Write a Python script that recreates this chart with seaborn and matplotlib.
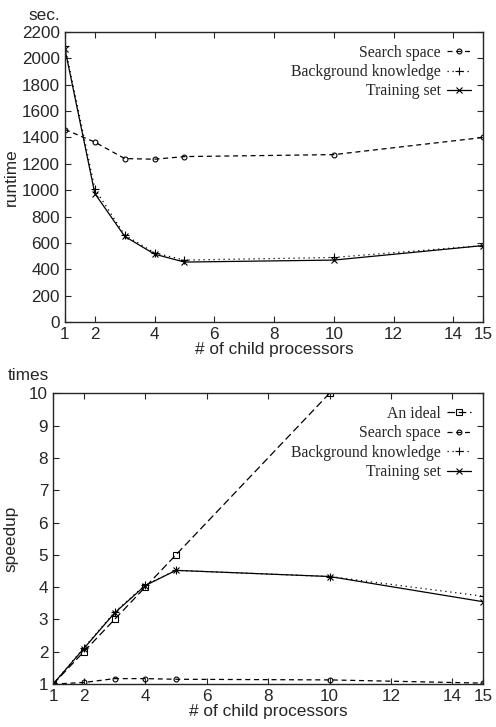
import numpy as np
import pandas as pd
import matplotlib
matplotlib.use("Agg")
import matplotlib.pyplot as plt
import seaborn as sns

# runtime (sec.) vs number of child processors
procs = [1, 2, 3, 4, 5, 10, 15]
rt_search = [1460, 1365, 1240, 1235, 1255, 1270, 1400]
rt_background = [2090, 1010, 660, 525, 470, 490, 580]
rt_training = [2070, 975, 650, 515, 455, 470, 580]

# speedup (times)
ideal_procs = [1, 2, 3, 4, 5, 10]
sp_ideal = [1, 2, 3, 4, 5, 10]
sp_search = [1.0, 1.05, 1.17, 1.17, 1.15, 1.13, 1.03]
sp_background = [1.0, 2.12, 3.22, 4.07, 4.52, 4.33, 3.72]
sp_training = [1.0, 2.10, 3.20, 4.05, 4.52, 4.33, 3.55]

xticks = [1, 2, 4, 6, 8, 10, 12, 14, 15]

sns.set_style("ticks")
plt.rcParams["font.family"] = ["Liberation Sans", "DejaVu Sans"]
plt.rcParams["xtick.direction"] = "in"
plt.rcParams["ytick.direction"] = "in"

fig = plt.figure(figsize=(4.96, 7.27), dpi=100)
ax1 = fig.add_axes([0.131, 0.557, 0.843, 0.399])
ax2 = fig.add_axes([0.107, 0.059, 0.867, 0.400])

styles = {
    "An ideal": dict(marker="s", linestyle=(0, (6, 3)), markersize=4),
    "Search space": dict(marker="o", linestyle=(0, (4, 3)), markersize=3.5),
    "Background knowledge": dict(marker="+", linestyle=(0, (1, 3)), markersize=6),
    "Training set": dict(marker="x", linestyle="-", markersize=4),
}


def draw(ax, x, y, name):
    st = styles[name]
    sns.lineplot(x=x, y=y, ax=ax, color="black", linewidth=0.9,
                 marker=st["marker"], markersize=st["markersize"],
                 markerfacecolor="none", markeredgecolor="black",
                 markeredgewidth=0.8, linestyle=st["linestyle"], label=name)


draw(ax1, procs, rt_search, "Search space")
draw(ax1, procs, rt_background, "Background knowledge")
draw(ax1, procs, rt_training, "Training set")

draw(ax2, ideal_procs, sp_ideal, "An ideal")
draw(ax2, procs, sp_search, "Search space")
draw(ax2, procs, sp_background, "Background knowledge")
draw(ax2, procs, sp_training, "Training set")

for ax in (ax1, ax2):
    ax.set_xlim(1, 15)
    ax.set_xticks(xticks)
    ax.tick_params(top=True, right=True, labelsize=12.3, length=4, width=0.8)
    for s in ax.spines.values():
        s.set_visible(True)
        s.set_linewidth(1.0)
    ax.set_xlabel("# of child processors", fontsize=12.4, labelpad=0)
    leg = ax.legend(loc="upper right", frameon=False, markerfirst=False,
                    prop={"family": "Liberation Serif", "size": 11.3},
                    handlelength=1.5, handletextpad=0.4, labelspacing=0.22,
                    borderaxespad=0.5, borderpad=0.3)

ax1.set_ylim(0, 2200)
ax1.set_yticks(np.arange(0, 2201, 200))
ax1.set_ylabel("runtime", fontsize=12.4, labelpad=2)

ax2.set_ylim(1, 10)
ax2.set_yticks(range(1, 11))
ax2.set_ylabel("speedup", fontsize=12.4, labelpad=8)

fig.text(0.058, 0.978, "sec.", fontsize=12.4, ha="left", va="center")
fig.text(0.015, 0.484, "times", fontsize=12.4, ha="left", va="center")

fig.savefig("out.png", dpi=100)
